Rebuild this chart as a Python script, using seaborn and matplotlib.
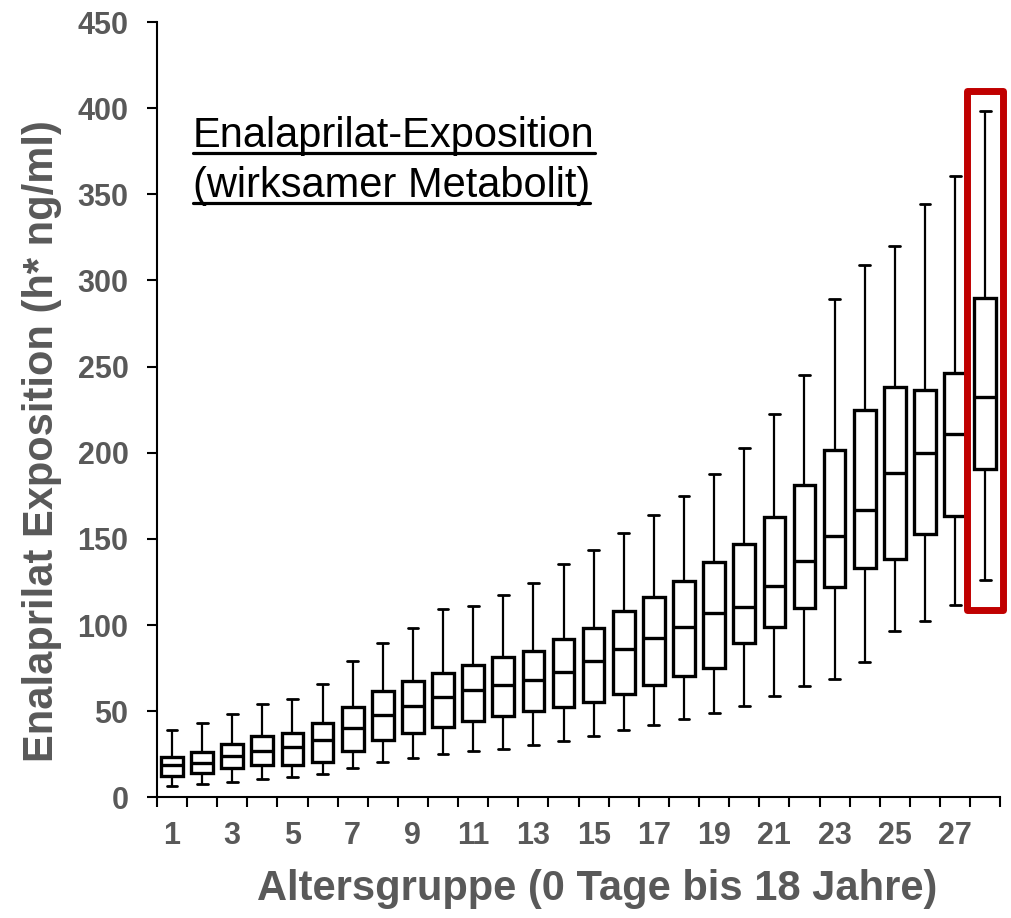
import numpy as np
import pandas as pd
import matplotlib
matplotlib.use("Agg")
import matplotlib.pyplot as plt
from matplotlib.patches import Rectangle
from matplotlib.lines import Line2D
import seaborn as sns

# Age groups and five-number summaries of enalaprilat exposure (h* ng/ml)
groups = [str(i) for i in range(1, 29)]
whisker_low = [6.4, 7.5, 9.1, 10.8, 12.0, 13.5, 17.0, 20.3, 23.0, 25.0,
               26.9, 28.3, 30.2, 32.7, 35.4, 38.9, 42.2, 45.3, 49.2, 53.2,
               59.0, 64.6, 68.7, 78.6, 96.4, 102.4, 111.5, 126.4]
quartile_1 = [12.2, 14.1, 17.2, 18.8, 18.6, 20.5, 26.7, 33.1, 37.3, 40.8,
              44.3, 47.0, 49.9, 52.4, 55.4, 60.2, 65.4, 70.3, 75.3, 89.8,
              98.9, 109.9, 121.8, 132.8, 138.6, 152.7, 163.2, 190.5]
median = [18.6, 20.1, 24.2, 26.9, 29.2, 33.1, 40.5, 47.8, 52.8, 58.2,
          62.1, 65.0, 67.9, 72.8, 79.0, 86.3, 92.5, 98.9, 107.0, 110.5,
          122.5, 137.2, 151.5, 166.6, 188.3, 199.9, 210.8, 232.4]
quartile_3 = [23.4, 26.3, 31.2, 35.8, 37.6, 43.2, 52.4, 61.7, 67.4, 72.3,
              76.6, 81.5, 84.9, 91.6, 98.5, 108.2, 116.0, 125.4, 136.5, 147.3,
              162.8, 181.4, 201.5, 224.7, 237.9, 236.3, 246.0, 289.6]
whisker_high = [39.2, 43.2, 48.4, 54.2, 57.1, 65.8, 79.0, 89.6, 98.1, 109.3,
                111.3, 117.7, 124.4, 135.3, 143.4, 153.5, 163.7, 174.6, 187.4, 202.6,
                222.4, 245.4, 289.2, 308.7, 319.9, 344.1, 360.8, 398.1]
tick_labels = groups[::2]
highlight_group = "28"

sns.set_theme(style="ticks")
plt.rcParams["font.family"] = ["Liberation Sans", "DejaVu Sans"]

grey = "#595959"

summary = pd.DataFrame({
    "group": groups,
    "lo": whisker_low,
    "q1": quartile_1,
    "med": median,
    "q3": quartile_3,
    "hi": whisker_high,
})
long = summary.melt(id_vars="group", value_name="exposure")

fig = plt.figure(figsize=(10.11, 9.18), dpi=100)
ax = fig.add_axes([0.1552, 0.1315, 0.8342, 0.8445])

sns.boxplot(
    data=long, x="group", y="exposure", order=groups,
    whis=(0, 100), width=0.72, color="white", saturation=1,
    linecolor="black", linewidth=2.4, fliersize=0,
    whiskerprops={"linewidth": 1.6},
    capprops={"linewidth": 2.0},
    medianprops={"linewidth": 2.4},
    ax=ax,
)

ax.set_ylim(0, 450)
ax.set_xlim(-0.5, len(groups) - 0.5)
ax.set_yticks(np.arange(0, 451, 50))

# boundary ticks between groups, labels on every second group
ax.set_xticks(np.arange(-0.5, len(groups), 1.0))
ax.set_xticklabels([])
ax.set_xticks(np.arange(0, len(groups), 2), minor=True)
ax.set_xticklabels(tick_labels, minor=True)

ax.tick_params(axis="x", which="major", length=7.5, width=1.5,
               direction="out", color="black")
ax.tick_params(axis="x", which="minor", length=0, pad=17,
               labelsize=22, labelcolor=grey)
ax.tick_params(axis="y", length=7.5, width=1.5, direction="out",
               pad=13, labelsize=22, labelcolor=grey, color="black")
for lab in ax.get_xticklabels(minor=True) + ax.get_yticklabels():
    lab.set_fontweight("bold")

sns.despine(ax=ax)
for side in ("left", "bottom"):
    ax.spines[side].set_color("black")
    ax.spines[side].set_linewidth(1.5)

ax.set_xlabel("Altersgruppe (0 Tage bis 18 Jahre)", fontsize=30,
              fontweight="bold", color=grey)
ax.set_ylabel("Enalaprilat Exposition (h* ng/ml)", fontsize=30,
              fontweight="bold", color=grey)
ax.xaxis.set_label_coords(0.522, -0.093)
ax.yaxis.set_label_coords(-0.112, 0.46)

# highlight frame around the oldest group
hi_idx = groups.index(highlight_group)
ax.add_patch(Rectangle((hi_idx - 0.62, 108.6), 1.22, 301.3, fill=False,
                       edgecolor="#C00000", linewidth=5, joinstyle="round",
                       clip_on=False, zorder=5))

# underlined annotation
title_lines = ["Enalaprilat-Exposition", "(wirksamer Metabolit)"]
baselines = [1 - 147 / 918, 1 - 197 / 918]
texts = []
for line, yb in zip(title_lines, baselines):
    texts.append(fig.text(193 / 1011, yb, line, fontsize=30, color="black",
                          ha="left", va="baseline"))
fig.canvas.draw()
renderer = fig.canvas.get_renderer()
W, H = fig.bbox.width, fig.bbox.height
for t, yb in zip(texts, baselines):
    bb = t.get_window_extent(renderer)
    y_line = yb - 5.5 / 918
    fig.add_artist(Line2D([bb.x0 / W, bb.x1 / W], [y_line, y_line],
                          transform=fig.transFigure, color="black",
                          linewidth=2.3))

fig.savefig("out.png", dpi=100)
